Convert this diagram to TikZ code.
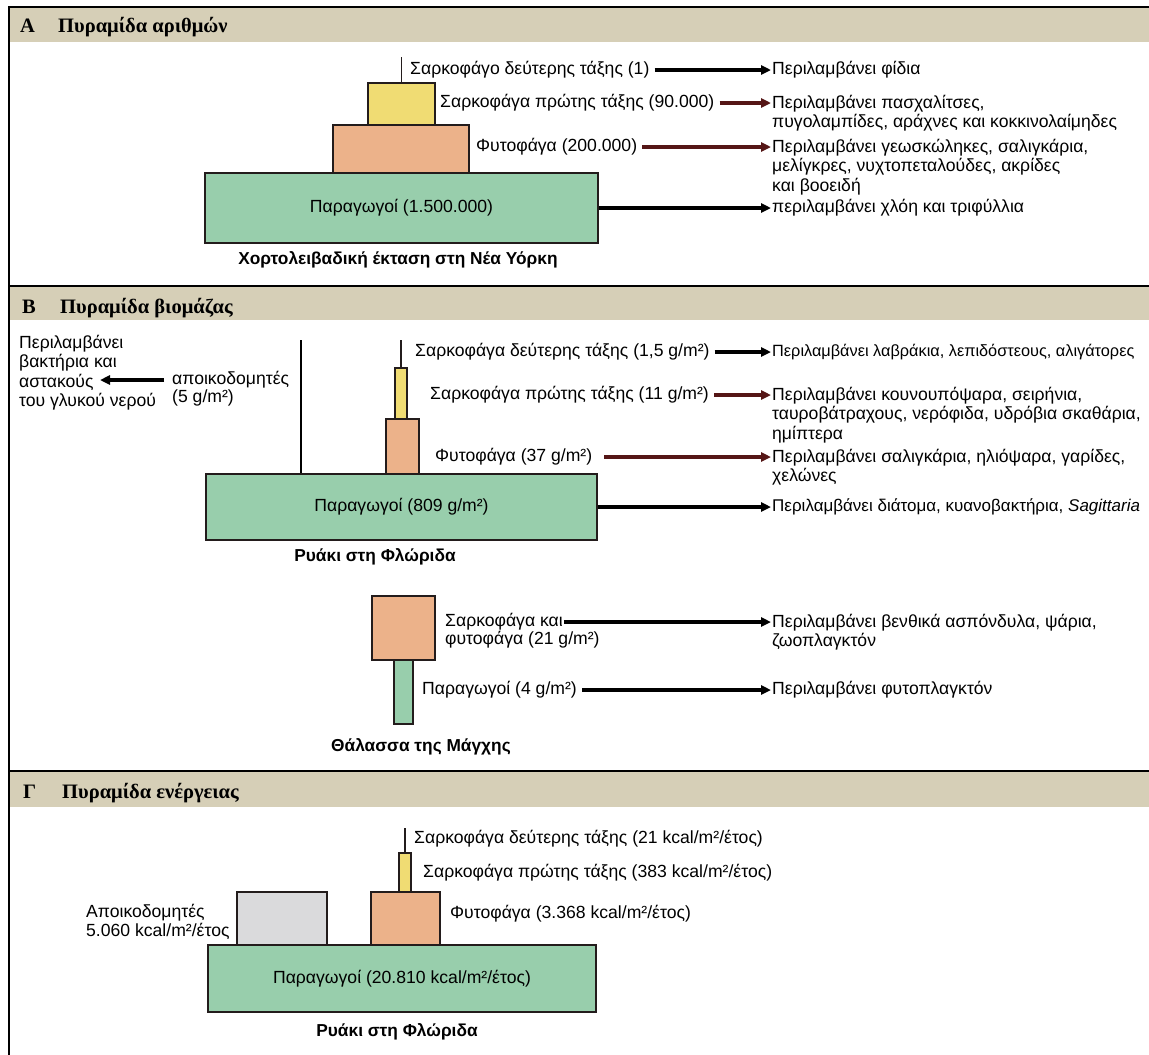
\documentclass[tikz,border=0pt]{standalone}
\usepackage{fontspec}
\setmainfont{Liberation Sans}
\newfontfamily\hdfont{Liberation Serif}
\usetikzlibrary{arrows.meta}
\definecolor{greenfill}{RGB}{152,206,172}
\definecolor{orangefill}{RGB}{236,178,138}
\definecolor{yellowfill}{RGB}{240,220,115}
\definecolor{greyfill}{RGB}{218,218,220}
\definecolor{hdrfill}{RGB}{214,207,183}
\definecolor{boxline}{RGB}{35,28,28}
\definecolor{arrowred}{RGB}{85,22,22}
\begin{document}
\begin{tikzpicture}[x=1pt,y=-1pt,
  txt/.style={font=\fontsize{17.6}{19.3}\selectfont},
  lab/.style={txt, inner sep=0pt, anchor=west},
  narrow/.style={font=\fontsize{16.3}{19.3}\selectfont},
  semi/.style={font=\fontsize{17}{19.3}\selectfont},
  mlab/.style={txt, inner sep=0pt, anchor=north west, align=left},
  captext/.style={inner sep=0pt, font=\fontsize{17.3}{19}\selectfont\bfseries},
  hdr/.style={inner sep=0pt, anchor=base west, font=\fontsize{20.5}{22}\selectfont\hdfont\bfseries},
  pbox/.style={draw=boxline, line width=1.7pt, inner sep=0pt, txt},
  gbox/.style={pbox, fill=greenfill},
  obox/.style={pbox, fill=orangefill},
  ybox/.style={pbox, fill=yellowfill},
  dbox/.style={pbox, fill=greyfill},
  stem/.style={line width=1.4pt, draw=boxline},
  arr/.style={line width=3.2pt, -{Triangle[length=10pt,width=9pt]}, shorten <=5pt, shorten >=1pt},
  arrk/.style={arr, draw=black},
  arrr/.style={arr, draw=arrowred},
  hdrbar/.style={fill=hdrfill},
  rule/.style={line width=2.2pt, draw=black}
]
\useasboundingbox (0,0) rectangle (1149,1055);
\fill[white] (0,0) rectangle (1149,1055);

% ---------- header bars and frame ----------
\fill[hdrbar] (9,7) rectangle (1149,42);
\fill[hdrbar] (9,286) rectangle (1149,320);
\fill[hdrbar] (9,771) rectangle (1149,807);
\draw[rule] (9,7) -- (1149,7);
\draw[rule] (9,286) -- (1149,286);
\draw[rule] (9,771) -- (1149,771);
\draw[rule] (9,6) -- (9,1055);

\node[hdr] (hA1) at (20,32) {A};
\node[hdr] (hA2) at (58,32) {Πυραμίδα αριθμών};
\node[hdr] (hB1) at (22,313) {B};
\node[hdr] (hB2) at (60,313) {Πυραμίδα βιομάζας};
\node[hdr] (hG1) at (23,798) {Γ};
\node[hdr] (hG2) at (62,798) {Πυραμίδα ενέργειας};

% ---------- A: pyramid of numbers ----------
\node[gbox, minimum width=393pt, minimum height=70pt] (gA) at (401.5,208) {Παραγωγοί (1.500.000)};
\node[obox, minimum width=136pt, minimum height=48pt] (oA) at (401,149) {};
\node[ybox, minimum width=67pt, minimum height=42pt] (yA) at (401.5,104) {};
\coordinate (tA) at (401.5,57);
\draw[stem] (yA.north) -- (tA);

\node[lab] (l1A) at (410,70) {Σαρκοφάγο δεύτερης τάξης (1)};
\node[lab] (l2A) at (440,103) {Σαρκοφάγα πρώτης τάξης (90.000)};
\node[lab] (l3A) at (476,147) {Φυτοφάγα (200.000)};

\node[lab] (d1A) at (772,70) {Περιλαμβάνει φίδια};
\node[mlab] (d2A) at (772,95) {Περιλαμβάνει πασχαλίτσες,\\πυγολαμπίδες, αράχνες και κοκκινολαίμηδες};
\node[mlab] (d3A) at (772,139) {Περιλαμβάνει γεωσκώληκες, σαλιγκάρια,\\μελίγκρες, νυχτοπεταλούδες, ακρίδες\\και βοοειδή};
\node[lab] (d4A) at (772,208) {περιλαμβάνει χλόη και τριφύλλια};

\draw[arrk] (l1A.east) -- (l1A.east -| d1A.west);
\draw[arrr] (l2A.east) -- (l2A.east -| d2A.west);
\draw[arrr] (l3A.east) -- (l3A.east -| d3A.west);
\draw[arrk, shorten <=0pt] (gA.east) -- (gA.east -| d4A.west);

\node[captext] (cA) at (398,260) {Χορτολειβαδική έκταση στη Νέα Υόρκη};

% ---------- B: pyramid of biomass (stream) ----------
\node[gbox, minimum width=391pt, minimum height=66pt] (gB) at (401.5,507) {Παραγωγοί (809 g/m²)};
\node[obox, minimum width=33pt, minimum height=55pt] (oB) at (402.5,446.5) {};
\node[ybox, minimum width=12pt, minimum height=51pt] (yB) at (401,393.5) {};
\coordinate (tB) at (401,340);
\draw[stem] (yB.north) -- (tB);
\coordinate (dB) at (301,340);
\draw[line width=2pt] (gB.north -| dB) -- (dB);

\node[lab] (l1B) at (415,352) {Σαρκοφάγα δεύτερης τάξης (1,5 g/m²)};
\node[lab] (l2B) at (430,395) {Σαρκοφάγα πρώτης τάξης (11 g/m²)};
\node[lab] (l3B) at (435,457) {Φυτοφάγα (37 g/m²)};

\node[lab, narrow] (d1B) at (772,352) {Περιλαμβάνει λαβράκια, λεπιδόστεους, αλιγάτορες};
\node[mlab] (d2B) at (772,387) {Περιλαμβάνει κουνουπόψαρα, σειρήνια,\\ταυροβάτραχους, νερόφιδα, υδρόβια σκαθάρια,\\ημίπτερα};
\node[mlab] (d3B) at (772,449) {Περιλαμβάνει σαλιγκάρια, ηλιόψαρα, γαρίδες,\\χελώνες};
\node[lab, semi] (d4B) at (772,507) {Περιλαμβάνει διάτομα, κυανοβακτήρια, \textit{Sagittaria}};

\draw[arrk] (l1B.east) -- (l1B.east -| d1B.west);
\draw[arrr] (l2B.east) -- (l2B.east -| d2B.west);
\draw[arrr, shorten <=12pt] (l3B.east) -- (l3B.east -| d3B.west);
\draw[arrk, shorten <=0pt] (gB.east) -- (gB.east -| d4B.west);

\node[mlab] (dlB) at (19,335) {Περιλαμβάνει\\βακτήρια και\\αστακούς\\του γλυκού νερού};
\node[lab] (decB1) at (172,380) {αποικοδομητές};
\node[lab] (decB2) at (172,398) {(5 g/m²)};
\coordinate (decTip) at (99,380);
\draw[arrk, shorten <=8pt] (decB1.west) -- (decTip);

\node[captext] (cB) at (375,557) {Ρυάκι στη Φλώριδα};

% ---------- B: English Channel ----------
\node[obox, minimum width=63pt, minimum height=64pt] (oS) at (403.5,628) {};
\node[gbox, minimum width=19pt, minimum height=64pt] (gS) at (403.5,692) {};

\node[lab] (l1S) at (445,622) {Σαρκοφάγα και};
\node[lab] (l1S2) at (445,640) {φυτοφάγα (21 g/m²)};
\node[lab] (l2S) at (422,690) {Παραγωγοί (4 g/m²)};

\node[mlab] (d1S) at (772,614) {Περιλαμβάνει βενθικά ασπόνδυλα, ψάρια,\\ζωοπλαγκτόν};
\node[lab] (d2S) at (772,690) {Περιλαμβάνει φυτοπλαγκτόν};

\draw[arrk, shorten <=1pt] (l1S.east) -- (l1S.east -| d1S.west);
\draw[arrk] (l2S.east) -- (l2S.east -| d2S.west);

\node[captext] (cS) at (421,747) {Θάλασσα της Μάγχης};

% ---------- Γ: pyramid of energy ----------
\node[gbox, minimum width=388pt, minimum height=67pt] (gG) at (402,978.5) {Παραγωγοί (20.810 kcal/m²/έτος)};
\node[obox, minimum width=69pt, minimum height=53pt] (oG) at (405.5,918.5) {};
\node[dbox, minimum width=90pt, minimum height=53pt] (dG) at (282,918.5) {};
\node[ybox, minimum width=12pt, minimum height=39pt] (yG) at (405,872.5) {};
\coordinate (tG) at (405,828);
\draw[stem] (yG.north) -- (tG);

\node[lab] (l1G) at (414,839) {Σαρκοφάγα δεύτερης τάξης (21 kcal/m²/έτος)};
\node[lab] (l2G) at (423,873) {Σαρκοφάγα πρώτης τάξης (383 kcal/m²/έτος)};
\node[lab] (l3G) at (450,914) {Φυτοφάγα (3.368 kcal/m²/έτος)};
\node[mlab] (decG) at (86,904) {Αποικοδομητές\\5.060 kcal/m²/έτος};

\node[captext] (cG) at (397,1032) {Ρυάκι στη Φλώριδα};
\end{tikzpicture}
\end{document}
